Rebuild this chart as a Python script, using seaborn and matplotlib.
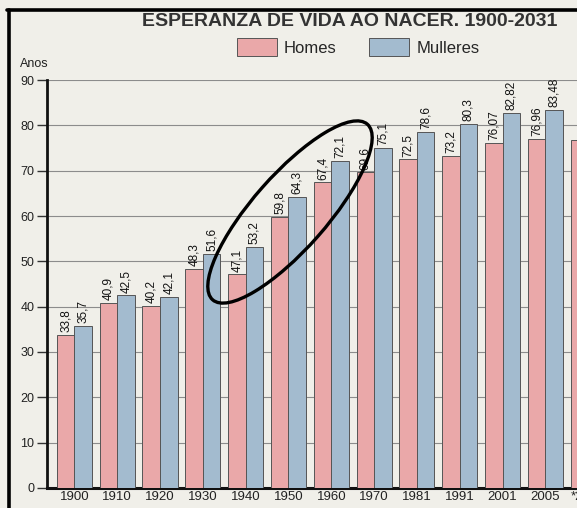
import matplotlib
matplotlib.use("Agg")
import matplotlib.pyplot as plt
from matplotlib.lines import Line2D
from matplotlib.patches import Ellipse
import seaborn as sns
import pandas as pd

years = ["1900", "1910", "1920", "1930", "1940", "1950", "1960",
         "1970", "1981", "1991", "2001", "2005", "*2031"]
homes = [33.8, 40.9, 40.2, 48.3, 47.1, 59.8, 67.4, 69.6, 72.5, 73.2, 76.07, 76.96, 76.68]
mulleres = [35.7, 42.5, 42.1, 51.6, 53.2, 64.3, 72.1, 75.1, 78.6, 80.3, 82.82, 83.48, 84.0]
series = ["Homes", "Mulleres"]
colors = ["#eaa8a9", "#a3bbcf"]

BG = "#f0efe9"

df = pd.DataFrame({
    "Ano": years * 2,
    "Sexo": [series[0]] * len(years) + [series[1]] * len(years),
    "Valor": homes + mulleres,
})

sns.set_theme(style="white")
plt.rcParams["font.family"] = ["Liberation Sans", "DejaVu Sans"]

fig = plt.figure(figsize=(5.77, 5.08), dpi=100, facecolor=BG)
ax = fig.add_axes([0.0815, 0.0394, 1 - 0.0815, 0.8031])
ax.set_facecolor(BG)

sns.barplot(data=df, x="Ano", y="Valor", hue="Sexo", palette=colors,
            width=0.82, edgecolor="#555555", linewidth=0.7, saturation=1,
            ax=ax, legend=True, zorder=3)

for cont in ax.containers:
    labels = [f"{v:g}".replace(".", ",") for v in cont.datavalues]
    ax.bar_label(cont, labels=labels, rotation=90, padding=2, fontsize=8.5,
                 color="#111111")

ax.set_ylim(0, 90)
ax.set_xlim(-0.64, 11.74)
ax.set_yticks(range(0, 91, 10))
ax.yaxis.grid(True, color="#8c8c8c", linewidth=0.8, zorder=0)
ax.set_axisbelow(True)
ax.set_xlabel("")
ax.set_ylabel("")
ax.tick_params(axis="y", left=True, length=7, width=1, color="#333333",
               labelsize=9, pad=2, labelcolor="#222222")
ax.tick_params(axis="x", bottom=False, length=0, labelsize=9.5, pad=2.5,
               labelcolor="#222222")

# last tick label sits past the right edge
ax.text(12, -0.008, years[-1], transform=ax.get_xaxis_transform(),
        ha="center", va="top", fontsize=9.5, color="#222222", clip_on=False)

for s in ["top", "right"]:
    ax.spines[s].set_visible(False)
ax.spines["left"].set_color("#111111")
ax.spines["left"].set_linewidth(2)
ax.spines["bottom"].set_color("#111111")
ax.spines["bottom"].set_linewidth(2.2)

fig.text(20 / 577, 1 - 64 / 508, "Anos", ha="left", va="center",
         fontsize=9, color="#222222")

handles, _ = ax.get_legend_handles_labels()
ax.legend(handles, series, loc="center", bbox_to_anchor=(358 / 577, 1 - 47 / 508),
          bbox_transform=fig.transFigure, ncol=2, frameon=False, fontsize=12,
          handlelength=2.4, handleheight=1.3, handletextpad=0.4, columnspacing=2.0)

fig.text(350 / 577, 1 - 22 / 508, "ESPERANZA DE VIDA AO NACER. 1900-2031",
         ha="center", va="center", fontsize=14, fontweight="bold", color="#333333")

# hand-drawn ellipse on the page
fig.add_artist(Ellipse((2.90, 2.96), 2.34, 0.74, angle=48.6, fill=False,
                       edgecolor="black", linewidth=2.4,
                       transform=fig.dpi_scale_trans))

# page frame (left and top edges)
fig.add_artist(Line2D([8.5 / 577, 8.5 / 577], [0, 1 - 9.5 / 508], color="black",
                      linewidth=2.6, transform=fig.transFigure))
fig.add_artist(Line2D([7 / 577, 1], [1 - 9.5 / 508, 1 - 9.5 / 508], color="black",
                      linewidth=2.6, transform=fig.transFigure))

fig.savefig("out.png", dpi=100, facecolor=BG)
